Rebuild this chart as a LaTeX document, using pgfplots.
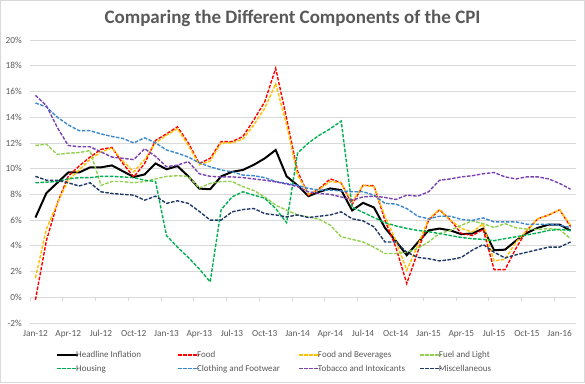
\documentclass[border=0pt]{standalone}
\usepackage{pgfplots}
\pgfplotsset{compat=1.18}
\usepackage{pgfplotstable}
\usepackage{fontspec}
\setmainfont{Carlito}
\definecolor{txtgray}{HTML}{595959}
\definecolor{gridgray}{HTML}{D9D9D9}
\definecolor{cFood}{HTML}{FF0000}
\definecolor{cFB}{HTML}{FFC000}
\definecolor{cFuel}{HTML}{92D050}
\definecolor{cHous}{HTML}{00B050}
\definecolor{cCloth}{HTML}{3A87D0}
\definecolor{cTob}{HTML}{7A3FB0}
\definecolor{cMisc}{HTML}{1F3864}
\newcommand{\legtxt}[1]{\hspace*{-4pt}\makebox[94pt][l]{#1}}

\pgfplotstableread{
i  HI    Food  FB    Fuel  Hous  Cloth Tob   Misc
0  6.2   -0.2  1.5   11.8  8.9   15.1  15.7  9.4
1  8.1   4.4   5.3   11.9  8.95  14.8  14.9  9.1
2  8.9   7.3   7.3   11.1  9.0   14.0  13.2  9.1
3  9.7   9.4   9.1   11.2  9.2   13.4  11.8  8.9
4  9.7   10.2  9.9   11.25 9.3   12.95 11.7  8.65
5  10.1  10.9  10.7  11.4  9.3   12.95 11.7  8.9
6  10.1  11.5  11.3  8.7   9.4   12.7  11.3  8.2
7  10.25 11.65 11.6  9.0   9.4   12.5  10.9  8.07
8  9.8   10.4  10.6  9.0   9.35  12.35 10.8  8.0
9  9.35  9.36  9.75  8.9   9.3   12.0  10.7  7.94
10 9.55  10.4  10.7  9.0   9.1   12.4  11.55 7.55
11 10.4  12.2  12.0  9.2   9.0   12.0  10.95 7.86
12 9.95  12.7  12.6  9.4   4.8   11.45 10.15 7.3
13 10.2  13.25 13.1  9.45  3.9   11.2  10.27 7.5
14 9.4   12.0  11.8  9.4   3.1   10.9  10.55 7.3
15 8.45  10.4  10.3  8.5   2.2   10.45 9.6   6.68
16 8.4   10.8  10.6  8.85  1.2   10.14 9.4   6.0
17 9.4   12.1  12.0  9.0   6.8   9.9   9.36  6.0
18 9.75  12.1  12.0  9.0   7.8   9.75  9.36  6.64
19 9.9   12.5  12.3  8.6   8.2   9.5   9.3   6.82
20 10.3  13.8  13.4  8.3   7.94  9.45  9.2   6.9
21 10.8  15.2  14.7  7.8   7.7   9.3   9.1   6.5
22 11.45 17.8  16.6  7.16  6.9   9.0   8.97  6.4
23 9.4   13.9  13.4  6.77  5.8   8.85  8.8   6.25
24 8.7   9.8   9.5   6.4   11.2  8.7   8.6   6.4
25 7.86  7.94  8.0   6.25  12.0  8.46  8.2   6.2
26 8.2   8.46  8.4   6.05  12.6  8.33  8.07  6.3
27 8.46  9.2   9.0   5.6   13.1  8.33  8.0   6.4
28 8.33  8.9   8.9   4.7   13.7  8.27  7.8   6.64
29 6.75  7.2   7.4   4.5   7.0   8.2   7.55  6.1
30 7.34  8.7   8.7   4.3   6.6   8.2   7.8   5.94
31 6.98  8.67  8.6   3.9   6.2   7.94  7.86  5.47
32 5.4   6.0   6.3   3.4   5.8   7.3   7.76  4.3
33 4.38  3.9   4.4   3.4   5.55  7.25  7.6   4.3
34 3.27  1.07  2.1   3.5   5.35  6.9   7.94  3.5
35 4.25  3.5   4.0   3.8   5.2   6.3   7.86  3.1
36 5.2   6.0   6.1   4.3   5.1   6.1   8.2   3.0
37 5.34  6.8   6.8   4.96  4.95  6.3   9.1   2.83
38 5.2   6.0   6.0   5.2   4.8   6.3   9.2   2.93
39 4.9   4.96  5.34  5.6   4.65  6.05  9.36  3.1
40 4.96  4.8   5.08  5.94  4.55  5.98  9.45  3.66
41 5.34  5.27  5.7   5.73  4.5   6.17  9.6   4.1
42 3.66  2.15  2.83  5.42  4.4   5.86  9.7   3.5
43 3.7   2.15  2.95  5.73  4.56  5.86  9.36  3.06
44 4.4   3.8   4.3   5.4   4.7   5.86  9.2   3.3
45 5.0   5.2   5.2   5.3   4.85  5.68  9.36  3.5
46 5.4   6.1   6.1   5.27  5.0   5.68  9.36  3.7
47 5.65  6.4   6.4   5.34  5.2   5.68  9.2   3.9
48 5.65  6.8   6.8   5.27  5.27  5.6   8.85  3.9
49 5.18  5.5   5.6   4.56  5.2   5.42  8.4   4.3
}\cpi

\begin{document}
\begin{tikzpicture}
\useasboundingbox (0,0) rectangle (585pt,383pt);
\draw[gridgray] (0.5pt,0.5pt) rectangle (584.5pt,382.5pt);
\node[font=\fontsize{19}{22}\selectfont\bfseries, text=txtgray] at (292.5pt,364.5pt) {Comparing the Different Components of the CPI};
\begin{axis}[
  at={(30pt,60pt)}, anchor=south west,
  width=546pt, height=283pt, scale only axis,
  xmin=-0.5, xmax=49.5, ymin=-2, ymax=20,
  axis line style={draw=none},
  ytick={-2,0,2,4,6,8,10,12,14,16,18,20},
  yticklabels={-2\%,0\%,2\%,4\%,6\%,8\%,10\%,12\%,14\%,16\%,18\%,20\%},
  ymajorgrids, grid style={gridgray, line width=0.75pt},
  xtick={0,3,...,48},
  xticklabels={Jan-12,Apr-12,Jul-12,Oct-12,Jan-13,Apr-13,Jul-13,Oct-13,Jan-14,Apr-14,Jul-14,Oct-14,Jan-15,Apr-15,Jul-15,Oct-15,Jan-16},
  major tick length=0pt,
  tick label style={font=\fontsize{9.3}{11}\selectfont, text=txtgray, inner sep=0pt},
  yticklabel style={xshift=-8pt},
  xticklabel style={yshift=-7pt},
  legend columns=4,
  legend image code/.code={\draw[#1] (0pt,0pt) -- (21pt,0pt);},
  legend style={at={(0.0476,-0.095)}, anchor=north west, draw=none, fill=none,
    inner xsep=0pt, inner ysep=0pt, font=\fontsize{9}{11}\selectfont, text=txtgray,
    cells={anchor=west}, nodes={inner sep=1pt},
    row sep=4pt,
    /tikz/every even column/.append style={column sep=6.5pt}},
  dsh/.style={line width=1.4pt, dash pattern=on 3.5pt off 1.5pt},
]
\pgfplotsinvokeforeach{0,...,16}{\draw[gridgray, line width=0.75pt] (axis cs:{-0.5+3*#1},0) -- ++(0pt,-4pt);}
\addplot[black, line width=2pt] table[x=i,y=HI]{\cpi};
\addlegendentry{\legtxt{Headline Inflation}}
\addplot[cFood, dsh] table[x=i,y=Food]{\cpi};
\addlegendentry{\legtxt{Food}}
\addplot[cFB, dsh] table[x=i,y=FB]{\cpi};
\addlegendentry{\legtxt{Food and Beverages}}
\addplot[cFuel, dsh] table[x=i,y=Fuel]{\cpi};
\addlegendentry{\legtxt{Fuel and Light}}
\addplot[cHous, dsh] table[x=i,y=Hous]{\cpi};
\addlegendentry{\legtxt{Housing}}
\addplot[cCloth, dsh] table[x=i,y=Cloth]{\cpi};
\addlegendentry{\legtxt{Clothing and Footwear}}
\addplot[cTob, dsh] table[x=i,y=Tob]{\cpi};
\addlegendentry{\legtxt{Tobacco and Intoxicants}}
\addplot[cMisc, dsh] table[x=i,y=Misc]{\cpi};
\addlegendentry{\legtxt{Miscellaneous}}
\end{axis}
\end{tikzpicture}
\end{document}
